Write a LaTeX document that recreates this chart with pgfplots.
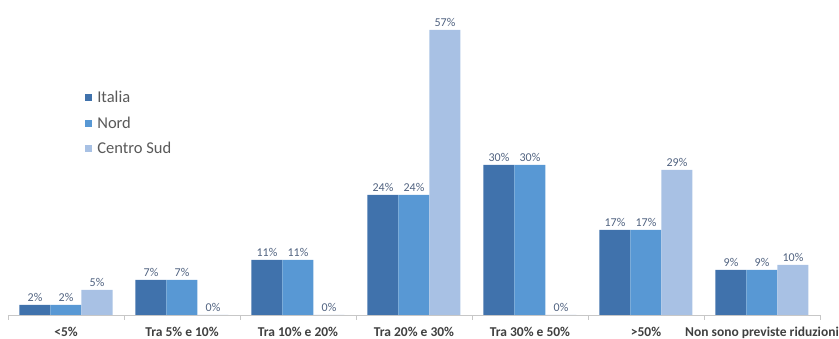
\documentclass[border=0pt]{standalone}
\usepackage{pgfplots}
\pgfplotsset{compat=1.18}
\usepackage{fontspec}
\setmainfont{Carlito}
\definecolor{cIt}{RGB}{64,114,172}
\definecolor{cNo}{RGB}{88,152,212}
\definecolor{cCS}{RGB}{168,193,228}
\definecolor{cVal}{RGB}{80,98,128}
\definecolor{cTxt}{RGB}{64,64,64}
\definecolor{cLeg}{RGB}{89,89,89}
\begin{document}
\begin{tikzpicture}[x=1pt,y=1pt]
\useasboundingbox (0,0) rectangle (839,339);
\begin{axis}[
  at={(8pt,24pt)}, anchor=south west,
  scale only axis, width=812pt, height=300pt,
  xmin=-0.5, xmax=6.5, ymin=0, ymax=60,
  ybar=0pt, bar width=31pt,
  axis x line*=bottom, axis y line=none,
  x axis line style={draw=black!22},
  xtick={0,...,6},
  xticklabels={{<5\%},{Tra 5\% e 10\%},{Tra 10\% e 20\%},{Tra 20\% e 30\%},{Tra 30\% e 50\%},{>50\%},{Non sono previste riduzioni}},
  minor xtick={-0.5,0.5,1.5,2.5,3.5,4.5,5.5,6.5},
  major tick length=0pt, minor tick length=5pt,
  xtick align=outside,
  minor tick style={draw=black!22},
  xticklabel style={font=\fontsize{13.5}{15}\selectfont\bfseries, text=cTxt, yshift=-8.5pt},
  clip=false,
  /pgf/number format/assume math mode=true,
  nodes near coords={\pgfmathprintnumber{\pgfplotspointmeta}\%},
  every node near coord/.append style={font=\fontsize{12}{13}\selectfont, text=cVal},
  legend cell align=left,
  legend image code/.code={\fill[#1] (0pt,-3.5pt) rectangle (7pt,3.5pt);},
  legend style={draw=none, fill=none, at={(0.095,0.752)}, anchor=north west,
    inner sep=0pt, column sep=4pt, row sep=11pt,
    nodes={font=\fontsize{16.5}{18}\selectfont, text=cLeg, inner sep=1pt}},
]
\addplot[fill=cIt, draw=none] coordinates {(0,2) (1,7) (2,11) (3,24) (4,30) (5,17) (6,9)};
\addplot[fill=cNo, draw=none] coordinates {(0,2) (1,7) (2,11) (3,24) (4,30) (5,17) (6,9)};
\addplot[fill=cCS, draw=none] coordinates {(0,5) (1,0) (2,0) (3,57) (4,0) (5,29) (6,10)};
\legend{Italia,Nord,Centro Sud}
\end{axis}
\end{tikzpicture}
\end{document}
